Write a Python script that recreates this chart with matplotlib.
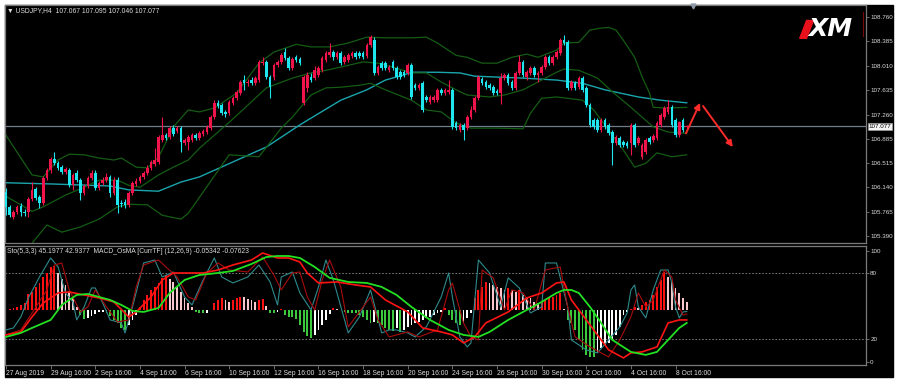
import numpy as np
import matplotlib
matplotlib.use("Agg")
import matplotlib.pyplot as plt
from matplotlib.patches import Rectangle, Polygon

# ---- USDJPY H4 candles ----
opens = [106.07, 105.84, 105.68, 105.76, 105.85, 105.76, 105.76, 105.96, 106.11, 105.99,
         105.90, 106.28, 106.40, 106.57, 106.51, 106.45, 106.37, 106.40, 106.17, 106.36,
         106.25, 106.05, 106.16, 106.28, 106.36, 106.13, 106.21, 106.25, 106.30, 106.05,
         106.25, 105.90, 105.91, 105.87, 106.05, 106.19, 106.24, 106.30, 106.36, 106.44,
         106.50, 106.53, 106.87, 106.94, 106.91, 107.05, 107.00, 107.05, 106.82, 106.84,
         106.87, 106.94, 106.90, 106.96, 106.99, 107.05, 107.22, 107.44, 107.40, 107.30,
         107.28, 107.44, 107.51, 107.59, 107.79, 107.74, 107.79, 107.74, 107.79, 108.05,
         108.07, 107.84, 107.84, 108.02, 108.07, 108.22, 108.13, 107.97, 108.14, 108.11,
         107.44, 107.67, 107.84, 107.82, 107.87, 107.94, 108.10, 108.17, 108.22, 108.14,
         108.20, 108.07, 108.10, 108.16, 108.20, 108.20, 108.20, 108.16, 108.33, 108.40,
         107.90, 108.05, 108.05, 107.94, 108.07, 107.97, 107.91, 107.91, 107.90, 108.02,
         107.71, 107.67, 107.74, 107.53, 107.45, 107.48, 107.48, 107.64, 107.59, 107.60,
         107.64, 107.13, 107.02, 107.10, 107.05, 107.22, 107.33, 107.51, 107.80, 107.76,
         107.71, 107.68, 107.62, 107.59, 107.82, 107.87, 107.76, 107.67, 107.90, 108.07,
         107.84, 107.90, 107.97, 107.87, 107.90, 107.99, 108.14, 108.05, 108.14, 108.20,
         108.40, 108.37, 107.67, 107.74, 107.68, 107.82, 107.67, 107.40, 107.17, 107.17,
         107.02, 107.17, 107.10, 106.99, 106.82, 106.90, 106.84, 106.82, 106.82, 107.10,
         106.82, 106.60, 106.68, 106.90, 106.87, 106.90, 107.10, 107.22, 107.30, 107.37,
         107.17, 106.94, 107.17, 107.067]
highs = [106.13, 105.87, 105.79, 105.87, 105.90, 105.80, 105.99, 106.22, 106.14, 106.02,
         106.31, 106.44, 106.60, 106.68, 106.54, 106.48, 106.45, 106.44, 106.36, 106.40,
         106.28, 106.19, 106.31, 106.40, 106.40, 106.24, 106.30, 106.36, 106.33, 106.30,
         106.30, 105.94, 105.96, 106.08, 106.24, 106.28, 106.33, 106.39, 106.48, 106.56,
         106.74, 106.94, 107.22, 106.97, 107.08, 107.10, 107.08, 107.08, 106.90, 106.94,
         106.97, 106.97, 107.00, 107.04, 107.10, 107.25, 107.48, 107.48, 107.44, 107.33,
         107.48, 107.54, 107.64, 107.79, 107.87, 107.80, 107.84, 107.85, 108.10, 108.14,
         108.10, 107.87, 108.05, 108.10, 108.20, 108.28, 108.16, 108.14, 108.17, 108.14,
         107.87, 107.91, 107.90, 108.00, 108.00, 108.16, 108.24, 108.36, 108.25, 108.24,
         108.24, 108.17, 108.20, 108.24, 108.24, 108.24, 108.24, 108.36, 108.48, 108.45,
         108.02, 108.08, 108.08, 108.02, 108.10, 108.00, 107.94, 107.94, 108.05, 108.05,
         107.74, 107.74, 107.77, 107.56, 107.56, 107.56, 107.67, 107.67, 107.67, 107.79,
         107.67, 107.16, 107.13, 107.13, 107.25, 107.39, 107.54, 107.87, 107.84, 107.79,
         107.74, 107.71, 107.65, 107.90, 107.90, 107.90, 107.79, 107.93, 108.17, 108.10,
         107.94, 108.00, 108.00, 107.93, 108.02, 108.17, 108.17, 108.17, 108.25, 108.44,
         108.48, 108.40, 107.79, 107.77, 107.85, 107.85, 107.70, 107.44, 107.20, 107.20,
         107.20, 107.20, 107.13, 107.02, 106.94, 106.93, 106.87, 106.85, 107.13, 107.13,
         106.93, 106.82, 106.90, 106.93, 106.96, 107.16, 107.28, 107.39, 107.48, 107.40,
         107.20, 107.16, 107.20, 107.095]
lows = [105.71, 105.68, 105.65, 105.73, 105.70, 105.70, 105.68, 105.93, 105.94, 105.82,
        105.87, 106.25, 106.36, 106.48, 106.40, 106.34, 106.34, 106.14, 106.10, 106.22,
        105.94, 106.02, 106.13, 106.25, 106.10, 106.10, 106.17, 106.22, 105.99, 106.02,
        105.74, 105.84, 105.82, 105.84, 106.02, 106.16, 106.21, 106.27, 106.33, 106.40,
        106.47, 106.50, 106.84, 106.87, 106.88, 106.93, 106.97, 106.68, 106.79, 106.71,
        106.84, 106.87, 106.87, 106.93, 106.96, 107.02, 107.19, 107.36, 107.25, 107.22,
        107.25, 107.40, 107.48, 107.56, 107.64, 107.70, 107.71, 107.71, 107.76, 108.02,
        107.80, 107.51, 107.79, 107.99, 108.04, 108.10, 107.94, 107.94, 108.07, 108.02,
        107.40, 107.60, 107.76, 107.79, 107.84, 107.91, 108.07, 108.14, 108.10, 108.11,
        108.02, 108.04, 108.07, 108.13, 108.11, 108.13, 108.11, 108.13, 108.30, 107.87,
        107.87, 107.94, 107.94, 107.91, 107.94, 107.80, 107.80, 107.84, 107.87, 107.50,
        107.64, 107.64, 107.30, 107.45, 107.42, 107.45, 107.45, 107.56, 107.56, 107.57,
        107.04, 107.02, 106.99, 106.87, 107.02, 107.19, 107.30, 107.48, 107.71, 107.65,
        107.64, 107.56, 107.56, 107.42, 107.79, 107.71, 107.64, 107.64, 107.87, 107.84,
        107.79, 107.87, 107.84, 107.76, 107.87, 107.96, 108.02, 108.02, 108.11, 108.17,
        108.33, 107.64, 107.64, 107.64, 107.65, 107.60, 107.37, 107.07, 107.04, 106.99,
        106.99, 107.04, 106.94, 106.48, 106.79, 106.76, 106.76, 106.74, 106.64, 106.76,
        106.79, 106.57, 106.65, 106.81, 106.84, 106.87, 107.07, 107.19, 107.27, 107.07,
        106.91, 106.91, 106.99, 107.046]
closes = [105.84, 105.71, 105.76, 105.84, 105.76, 105.74, 105.96, 106.10, 105.97, 105.90,
          106.28, 106.40, 106.57, 106.51, 106.44, 106.37, 106.42, 106.17, 106.33, 106.25,
          106.05, 106.16, 106.28, 106.36, 106.13, 106.21, 106.25, 106.30, 106.05, 106.25,
          105.87, 105.88, 105.87, 106.05, 106.21, 106.24, 106.30, 106.36, 106.44, 106.53,
          106.56, 106.91, 106.94, 106.90, 107.05, 106.96, 107.05, 106.84, 106.87, 106.91,
          106.94, 106.90, 106.97, 107.00, 107.07, 107.22, 107.44, 107.39, 107.28, 107.27,
          107.45, 107.51, 107.60, 107.76, 107.74, 107.76, 107.74, 107.82, 108.07, 108.07,
          107.84, 107.68, 108.02, 108.07, 108.17, 108.13, 107.97, 108.11, 108.10, 108.05,
          107.84, 107.87, 107.79, 107.94, 107.97, 108.13, 108.20, 108.22, 108.14, 108.20,
          108.05, 108.14, 108.17, 108.20, 108.14, 108.16, 108.14, 108.33, 108.45, 107.90,
          107.99, 107.97, 107.97, 107.99, 107.97, 107.84, 107.84, 107.87, 108.02, 107.53,
          107.67, 107.71, 107.33, 107.48, 107.53, 107.53, 107.64, 107.59, 107.64, 107.64,
          107.07, 107.05, 107.10, 107.02, 107.22, 107.33, 107.51, 107.84, 107.74, 107.68,
          107.67, 107.59, 107.59, 107.82, 107.87, 107.74, 107.67, 107.90, 108.07, 107.87,
          107.91, 107.97, 107.87, 107.90, 107.99, 108.14, 108.05, 108.14, 108.22, 108.40,
          108.36, 107.67, 107.76, 107.67, 107.82, 107.64, 107.40, 107.10, 107.07, 107.02,
          107.17, 107.07, 106.97, 106.82, 106.91, 106.79, 106.79, 106.77, 107.10, 106.79,
          106.90, 106.79, 106.87, 106.84, 106.93, 107.13, 107.25, 107.36, 107.37, 107.10,
          106.94, 107.14, 107.02, 107.077]

# moving average (teal) sampled at bar indices
ma_bars = [0, 13, 28, 33, 41, 47, 52, 61, 70, 79, 81, 90, 97, 102, 107, 109, 116, 122,
           126, 139, 148, 155, 161, 170, 176, 183]
ma_vals = [106.21, 106.19, 106.16, 106.10, 106.08, 106.22, 106.30, 106.53, 106.76, 107.10,
           107.17, 107.48, 107.64, 107.79, 107.87, 107.91, 107.91, 107.90, 107.85, 107.82,
           107.79, 107.74, 107.64, 107.53, 107.48, 107.44]

# Bollinger bands (dark green)
bb_up_bars = [0, 7, 10, 14, 17, 21, 25, 29, 31, 35, 38, 41, 45, 49, 52, 56, 62, 68, 72, 78,
              82, 87, 92, 97, 102, 109, 113, 116, 121, 124, 128, 132, 136, 140, 143, 148,
              150, 154, 157, 160, 162, 164, 166, 169, 171, 173, 174, 178, 183]
bb_up = [106.94, 106.33, 106.30, 106.56, 106.65, 106.64, 106.59, 106.56, 106.59, 106.45,
         106.44, 106.60, 107.07, 107.33, 107.30, 107.36, 107.59, 108.05, 108.22, 108.34,
         108.30, 108.30, 108.36, 108.45, 108.44, 108.44, 108.45, 108.36, 108.17, 108.14,
         108.05, 108.05, 108.14, 108.19, 108.14, 108.25, 108.36, 108.37, 108.56, 108.59,
         108.60, 108.56, 108.40, 108.14, 107.84, 107.59, 107.37, 107.36, 107.37]
bb_mid_bars = [0, 4, 7, 10, 16, 21, 25, 30, 33, 36, 41, 45, 49, 52, 57, 60, 64, 70, 77,
               82, 86, 90, 96, 100, 104, 109, 113, 117, 121, 124, 130, 134, 139, 144, 148,
               150, 154, 159, 163, 168, 171, 174, 178, 183]
bb_mid = [106.00, 105.87, 105.77, 105.84, 106.02, 106.14, 106.25, 106.25, 106.17, 106.14,
          106.33, 106.45, 106.56, 106.74, 106.99, 107.14, 107.35, 107.67, 107.82, 107.90,
          107.94, 107.99, 108.07, 108.05, 107.99, 107.90, 107.90, 107.76, 107.64, 107.56,
          107.53, 107.56, 107.64, 107.79, 107.91, 107.96, 107.94, 107.82, 107.61, 107.37,
          107.22, 107.07, 106.99, 106.97]
bb_lo_bars = [7, 11, 15, 20, 25, 30, 33, 38, 42, 47, 49, 54, 60, 68, 74, 77, 82, 86, 90,
              95, 98, 102, 109, 113, 117, 121, 125, 132, 139, 141, 144, 148, 151, 155, 158,
              162, 166, 169, 172, 175, 179, 183]
bb_lo = [105.28, 105.56, 105.45, 105.53, 105.65, 105.84, 105.88, 105.87, 105.71, 105.65,
         105.74, 106.15, 106.64, 106.61, 107.05, 107.22, 107.56, 107.67, 107.68, 107.71,
         107.74, 107.64, 107.48, 107.33, 107.30, 107.13, 107.05, 107.05, 107.04, 107.28,
         107.51, 107.53, 107.51, 107.48, 107.33, 107.02, 106.71, 106.45, 106.51, 106.67,
         106.61, 106.64]

# forecast arrows (bar index, price)
arrow_bars = [182.8, 186.6, 187.4, 195.4]
arrow_prices = [106.97, 107.44, 107.39, 106.76]

price_ticks = [108.760, 108.385, 108.010, 107.635, 107.260, 106.885, 106.515, 106.140, 105.765, 105.390]
last_price = 107.077

# ---- lower window: Stochastic(5,3,3) + MACD_OsMA ----
sto_main_bars = [0, 2, 4, 6, 9, 12, 14, 16, 18, 19, 21, 23, 24, 26, 28, 31, 32, 34, 37, 40,
                 42, 45, 48, 50, 53, 56, 58, 61, 65, 68, 71, 73, 74, 77, 79, 82, 84, 86, 88,
                 92, 95, 98, 101, 103, 105, 108, 110, 113, 117, 119, 120, 122, 124, 125, 127,
                 130, 133, 135, 138, 141, 144, 145, 148, 151, 152, 156, 159, 162, 165, 167,
                 168, 169, 170, 172, 174, 176, 178, 179, 180, 181, 182, 183]
sto_main = [28.6, 30.4, 40.3, 57.4, 76.3, 93.4, 85.3, 61.9, 53.8, 37.6, 49.3, 66.4, 66.4,
            52.9, 37.6, 34.9, 25.9, 49.3, 88.9, 91.6, 76.3, 80.8, 58.3, 51.1, 73.6, 93.4,
            76.3, 70.9, 76.3, 87.1, 71.8, 51.1, 76.3, 80.8, 61.9, 46.6, 67.3, 91.6, 73.6,
            25.9, 40.3, 64.6, 25.9, 28.6, 28.6, 25.9, 22.3, 31.3, 58.3, 79.9, 58.3, 22.3,
            13.3, 16.9, 91.6, 79.9, 49.3, 75.5, 66.4, 43.9, 49.3, 88.9, 88.9, 49.3, 19.6,
            10.6, 7.9, 19.6, 31.3, 43.9, 64.6, 69.1, 49.3, 39.4, 64.6, 82.6, 82.6, 70.9,
            49.3, 39.4, 44.8, 45.2]
sto_sig_bars = [0, 4, 7, 11, 13, 15, 17, 20, 22, 24, 27, 30, 33, 35, 37, 41, 43, 46, 49, 51,
                54, 57, 60, 65, 69, 72, 74, 77, 79, 81, 83, 85, 87, 90, 92, 96, 98, 100, 103,
                108, 111, 116, 119, 120, 123, 125, 127, 128, 131, 134, 136, 139, 142, 145,
                149, 151, 153, 157, 160, 162, 165, 168, 170, 172, 174, 177, 179, 180, 182, 183]
sto_sig = [24.1, 28.6, 43.9, 64.6, 87.1, 88.9, 64.6, 44.8, 49.3, 64.6, 49.3, 35.8, 37.6,
           67.3, 87.1, 91.6, 85.3, 76.3, 58.3, 55.6, 79.9, 88.9, 82.6, 80.8, 94.3, 78.1,
           64.6, 79.9, 80.8, 58.3, 46.6, 73.6, 91.6, 67.3, 31.3, 49.3, 58.3, 37.6, 22.3,
           26.8, 22.3, 28.6, 64.6, 70.9, 34.9, 22.3, 19.6, 82.6, 75.5, 46.6, 64.6, 61.9,
           46.6, 82.6, 85.3, 49.3, 22.3, 13.3, 7.9, 4.3, 19.6, 40.3, 61.9, 49.3, 55.6, 82.6,
           76.3, 55.6, 42.1, 42.9]

# smooth MACD lines drawn in the same window (red / green)
red_bars = [0, 4, 7, 10, 14, 17, 21, 25, 29, 33, 35, 39, 42, 45, 49, 53, 57, 61, 66, 69,
            73, 76, 79, 81, 84, 89, 94, 98, 102, 108, 112, 117, 120, 123, 126, 129, 135, 140,
            144, 148, 150, 152, 156, 160, 162, 166, 168, 171, 175, 178, 181, 183]
red_vals = [24.1, 26.8, 40.3, 52.9, 61.9, 62.8, 60.1, 57.4, 53.8, 40.3, 44.8, 58.3, 73.6,
            79.9, 79.9, 79.9, 82.6, 87.1, 91.6, 97.9, 93.4, 93.4, 89.8, 79.9, 70.9, 71.8,
            69.1, 67.3, 55.6, 44.8, 30.4, 26.8, 24.1, 16.9, 22.3, 34.9, 44.8, 57.4, 61.9,
            70.9, 71.8, 55.6, 37.6, 19.6, 10.6, 3.4, 7.9, 8.8, 13.3, 34.9, 37.6, 37.6]
green_bars = [0, 4, 7, 12, 15, 19, 22, 25, 28, 31, 34, 37, 41, 44, 48, 52, 57, 61, 66, 70,
              73, 76, 79, 83, 87, 92, 97, 101, 105, 109, 114, 119, 123, 127, 130, 135, 139,
              144, 148, 150, 152, 154, 157, 160, 163, 168, 172, 175, 178, 181, 183]
green_vals = [22.3, 25.9, 30.4, 37.6, 51.1, 60.1, 61.0, 58.3, 55.6, 51.1, 45.7, 44.8, 48.4,
              61.9, 73.6, 78.1, 79.9, 81.7, 88.0, 94.3, 95.2, 95.2, 93.4, 85.3, 75.5, 71.8,
              70.9, 67.3, 60.1, 49.3, 37.6, 28.6, 24.1, 22.3, 26.8, 37.6, 44.8, 53.8, 61.9,
              64.6, 64.6, 61.9, 49.3, 34.9, 19.6, 8.8, 6.1, 8.8, 19.6, 30.4, 34.9]

# OsMA histogram, one value per bar
osma = [0.3, 0.5, 1.5, 3.3, 4.5, 7, 16, 18, 23, 27, 33, 37, 43, 44, 37, 31, 25, 18, 12, 3,
        -5, -9, -8, -6, -4, -2.5, -2, -3.5, -6, -10, -13, -18, -20, -15, -10, -5, 3, 10, 15, 20,
        23, 27, 32, 35, 31, 28, 23, 18, 12, 7, 3, -2, -3.3, -3.5, -3, -0.5, 7, 10, 12, 10,
        8, 10, 12, 13, 12.5, 11, 10, 8, 10, 11, 4, -2.7, -3.3, -1.7, 0.5, -5, -6.7, -7.3, -9, -15,
        -22, -26, -28.3, -25, -20, -15, -10, -4, 1.7, 0.5, -0.5, -1.7, -3.3, -3.3, -3.5, -5, -6.7, -10, -13.3, -11.7,
        -13, -15, -18, -20, -20.7, -18.3, -21.7, -20, -16.7, -15, -13.3, -11.7, -10, -8.3, -6.7, -5, -3.3, -1.7, 1.7, -5,
        -10, -13.3, -15, -13.3, -8.3, -3, 11.7, 20, 23.3, 28.3, 26.7, 25, 23.3, 21.7, 20, 21.7, 20, 18.3, 20, 15,
        13.3, 11.7, 8.3, 6.7, 8.3, 10, 11.7, 13.3, 15, 16.7, 0.5, -10, -13.3, -20, -30, -40, -45, -46.7, -46.7, -43.3,
        -38.3, -35, -33.3, -30, -25, -16.7, -5, -1.7, 0.7, 3.3, 1.7, 5, 8.3, 10, 15, 23.3, 30, 38.3, 33.3, 28.3,
        21.7, 16.7, 11.7, 8.3]

date_bars = list(range(0, 181, 12))
date_labels = ["27 Aug 2019", "29 Aug 16:00", "2 Sep 16:00", "4 Sep 16:00", "6 Sep 16:00",
               "10 Sep 16:00", "12 Sep 16:00", "16 Sep 16:00", "18 Sep 16:00", "20 Sep 16:00",
               "24 Sep 16:00", "26 Sep 16:00", "30 Sep 16:00", "2 Oct 16:00", "4 Oct 16:00",
               "8 Oct 16:00"]
sto_ticks = [100, 80, 20, 0]

# ---- drawing ----
W, H = 898, 384
TXT = "#dcdcdc"
GRID = "#7a7a7a"
FONT = "Liberation Sans"
FS = 4.9
FS_Y = 4.5

fig = plt.figure(figsize=(W / 100, H / 100), dpi=100, facecolor="white")
fig.patches.append(Rectangle((5 / W, 1 - 377 / H), 888 / W, 372 / H,
                             transform=fig.transFigure, color="black", zorder=-5))

ax1 = fig.add_axes([5 / W, 1 - 243 / H, 861 / W, 238 / H])
ax2 = fig.add_axes([5 / W, 1 - 365 / H, 861 / W, 119 / H])

for ax in (ax1, ax2):
    ax.set_facecolor("black")
    for s in ax.spines.values():
        s.set_color(GRID)
        s.set_linewidth(0.9)
    ax.set_xlim(-0.27, 231.2)
    ax.yaxis.tick_right()
    ax.tick_params(axis="y", colors=GRID, labelcolor=TXT, labelsize=FS_Y, length=2,
                   width=0.6, pad=1.0)

n = len(closes)
idx = np.arange(n)
o = np.array(opens); c = np.array(closes)
hi = np.array(highs); lo = np.array(lows)
cols = np.where(c > o, "#f0144a", np.where(c < o, "#1fe6ee", "#18c818"))

ax1.vlines(idx, lo, hi, colors=cols, linewidth=0.8, zorder=3)
ax1.bar(idx, np.maximum(np.abs(c - o), 0.008), bottom=np.minimum(o, c), width=0.7,
        color=cols, linewidth=0, zorder=4)

ax1.plot(ma_bars, ma_vals, color="#1aa5ad", lw=1.0, zorder=2)
for bx, bv in ((bb_up_bars, bb_up), (bb_mid_bars, bb_mid), (bb_lo_bars, bb_lo)):
    ax1.plot(bx, bv, color="#145c14", lw=0.9, zorder=2)

ax1.axhline(last_price, color="#6f7c8a", lw=0.9, zorder=1)

# forecast arrows
for i in (0, 2):
    ax1.annotate("", xy=(arrow_bars[i + 1], arrow_prices[i + 1]),
                 xytext=(arrow_bars[i], arrow_prices[i]),
                 arrowprops=dict(arrowstyle="-|>", color="#ff2a2a", lw=1.4,
                                 mutation_scale=9, shrinkA=0, shrinkB=0), zorder=5)

ax1.set_ylim(105.283, 108.945)
ax1.set_yticks(price_ticks)
ax1.set_yticklabels([f"{v:.3f}" for v in price_ticks], family=FONT)
ax1.set_xticks([])

ax1.annotate(f"{last_price:.3f}", xy=(1.0, last_price), xycoords=("axes fraction", "data"),
             xytext=(1.8, 0), textcoords="offset points", va="center", ha="left",
             fontsize=FS_Y, family=FONT, color="black", annotation_clip=False,
             bbox=dict(boxstyle="square,pad=0.12", fc="#f4f4f4", ec="#9a9a9a", lw=0.5))

# chart-shift marker on the top border
ax1.plot([184.7], [108.93], marker="v", ms=3.5, color="#8e98a8", clip_on=False, zorder=6)

# XM logo
ax1.add_patch(Polygon([(0.931, 0.935), (0.939, 0.935), (0.931, 0.86), (0.923, 0.86)],
                      closed=True, transform=ax1.transAxes, color="#e8101a", zorder=6))
ax1.text(0.933, 0.90, "XM", transform=ax1.transAxes, fontsize=18, fontweight="bold",
         fontstyle="italic", color="white", va="center", ha="left", zorder=7)
ax1.plot([0.9962, 0.9962], [0.87, 0.97], transform=ax1.transAxes, color="#7a0a0a", lw=0.8)

fig.text(7 / W, 1 - 10.5 / H, "\u25bc USDJPY,H4  107.067 107.095 107.046 107.077",
         fontsize=FS, color=TXT, va="center", ha="left", family=[FONT, "DejaVu Sans"])

# lower window
ax2.set_ylim(-3.0, 104.2)
ax2.axhline(80, color="#8a8a8a", lw=0.6, ls=(0, (2, 2)))
ax2.axhline(20, color="#8a8a8a", lw=0.6, ls=(0, (2, 2)))

base = 46.6
osma_arr = np.array(osma) * 0.9
prev = np.concatenate([[osma_arr[0]], osma_arr[:-1]])
hcols = np.where(osma_arr >= 0,
                 np.where(osma_arr >= prev, "#ff1010", "#f6c8cc"),
                 np.where(osma_arr <= prev, "#3cc83c", "#ffffff"))
ax2.bar(idx, osma_arr, bottom=base, width=0.5, color=hcols, linewidth=0, zorder=2)

ax2.plot(sto_main_bars, sto_main, color="#2e8a8c", lw=0.8, zorder=3)
ax2.plot(sto_sig_bars, sto_sig, color="#a80c0c", lw=0.8, zorder=3)
ax2.plot(red_bars, red_vals, color="#ff1414", lw=1.2, zorder=4)
ax2.plot(green_bars, green_vals, color="#22e022", lw=1.3, zorder=4)

ax2.set_yticks(sto_ticks)
ax2.set_yticklabels([str(v) for v in sto_ticks], family=FONT)
ax2.set_xticks(date_bars)
ax2.set_xticklabels(date_labels, ha="left", family=FONT)
ax2.tick_params(axis="x", colors=GRID, labelcolor=TXT, labelsize=FS, length=3,
                width=0.6, pad=0.3)

ax2.text(0.002, 0.955, "Sto(5,3,3) 45.1977 42.9377  MACD_OsMA [CurrTF] (12,26,9) -0.05342 -0.07623",
         transform=ax2.transAxes, fontsize=FS, color=TXT, va="center", ha="left", family=FONT)

fig.savefig("out.png", dpi=100, facecolor="white")
